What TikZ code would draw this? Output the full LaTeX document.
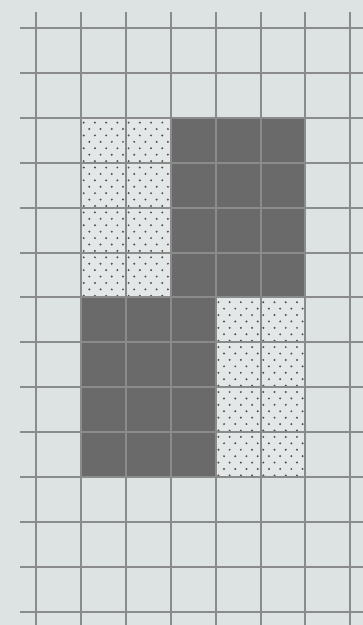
\documentclass[tikz,border=0pt]{standalone}
\usepackage{tikz}
\usetikzlibrary{positioning}

\definecolor{sfondo}{RGB}{221,226,227}
\definecolor{puntino}{RGB}{228,231,232}
\definecolor{scuro}{RGB}{106,106,106}
\definecolor{linea}{RGB}{138,140,140}
\definecolor{punto}{RGB}{80,80,80}

\begin{document}
\begin{tikzpicture}[x=1pt, y=-1pt,
    cellascura/.style={fill=scuro},
    cellapunti/.style={fill=puntino},
    griglia/.style={draw=linea, line width=2pt}]
			% Sfondo
			\fill[sfondo] (0,0) rectangle (363,625);
			\useasboundingbox (0,0) rectangle (363,625);
			
			\begin{scope}[shift={(36,28)}, x=44.9pt, y=-44.9pt]
			% Blocchi scuri
			\fill[cellascura] (3,2) rectangle (6,6);
			\fill[cellascura] (1,6) rectangle (4,10);
			
			% Blocchi a puntini
			\fill[cellapunti] (1,2) rectangle (3,6);
			\fill[cellapunti] (4,6) rectangle (6,10);
			\foreach \cx/\cy in {1/2, 2/2, 1/3, 2/3, 1/4, 2/4, 1/5, 2/5,
			                     4/6, 5/6, 4/7, 5/7, 4/8, 5/8, 4/9, 5/9} {
				\foreach \r in {0,...,6} {
					\foreach \k in {0,...,3} {
						\fill[punto] ({\cx+(\k+0.25+0.5*mod(\r,2))/4}, {\cy+(\r+0.75)/7}) circle (1.1pt);
					}
				}
			}
			
			% Griglia
			\foreach \i in {0,...,7}
				\draw[griglia] (\i,-0.36) -- (\i,13.3);
			\foreach \j in {0,...,13}
				\draw[griglia] (-0.36,\j) -- (7.3,\j);
			\end{scope}
		\end{tikzpicture}
\end{document}
